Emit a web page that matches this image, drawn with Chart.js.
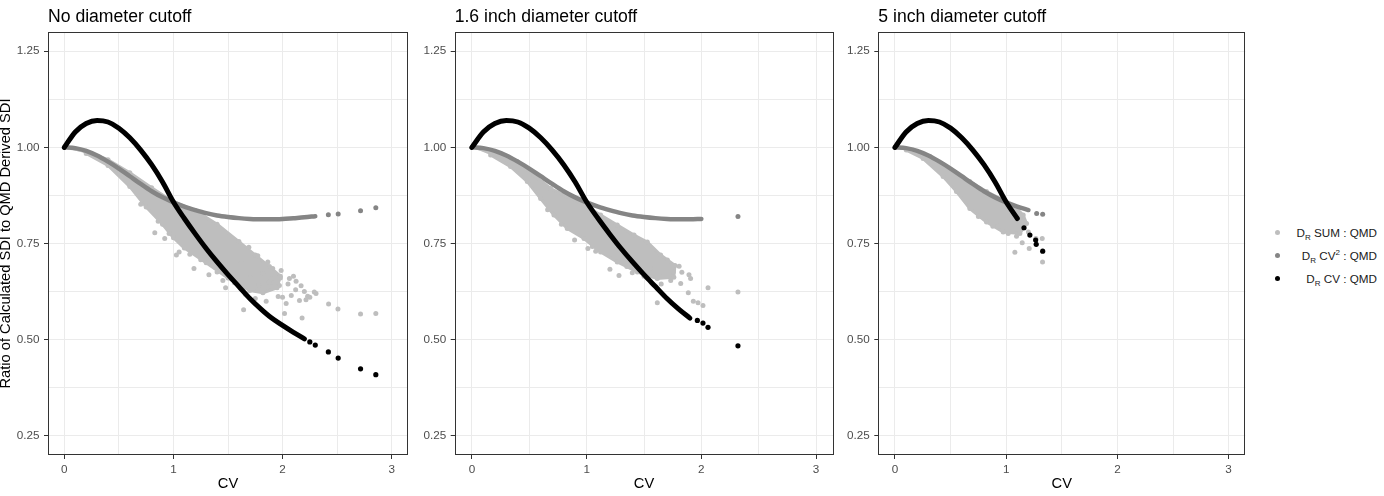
<!DOCTYPE html>
<html>
<head>
<meta charset="utf-8">
<script src="https://cdn.jsdelivr.net/npm/chart.js@4.4.1/dist/chart.umd.min.js"></script>
<style>
  body { margin: 0; background: #fff; width: 1384px; height: 496px; position: relative; overflow: hidden;
         font-family: "Liberation Sans", Arial, sans-serif; }
  canvas { position: absolute; top: 0; }
  #legend { position: absolute; left: 1262px; top: 221px; width: 115px; font-size: 11.7px; color: #1a1a1a; }
  .key { position: relative; height: 23px; line-height: 23px; text-align: right; white-space: nowrap; }
  .key i { position: absolute; left: 13px; top: 9px; width: 5px; height: 5px; border-radius: 50%; }
  .key sub, .key sup { font-size: 8px; line-height: 0; }
</style>
</head>
<body>
<canvas id="p0" width="420" height="496" style="left:0px"></canvas>
<canvas id="p1" width="420" height="496" style="left:420px"></canvas>
<canvas id="p2" width="420" height="496" style="left:840px"></canvas>
<div id="legend"></div>
<script>
// Panels and axes
const panelTitles = ['No diameter cutoff', '1.6 inch diameter cutoff', '5 inch diameter cutoff'];
const xTicks = [0, 0.5, 1, 1.5, 2, 2.5, 3];
const yTicks = [0.25, 0.375, 0.5, 0.625, 0.75, 0.875, 1, 1.125, 1.25];

// Series (legend order)
const seriesLabels = ['D<sub>R</sub> SUM : QMD', 'D<sub>R</sub> CV<sup>2</sup> : QMD', 'D<sub>R</sub> CV : QMD'];
const seriesColors = ['#bebebe', '#858585', '#000000'];

// CV steps at which the two smooth ratio curves were read
const cvSteps = [0, 0.1, 0.2, 0.3, 0.4, 0.5, 0.6, 0.7, 0.8, 0.9, 1.0, 1.1,
                 1.2, 1.3, 1.4, 1.5, 1.6, 1.7, 1.8, 1.9, 2.0, 2.1, 2.2, 2.3];
// D_R CV : QMD
const ratioCV = [1.000, 1.040, 1.062, 1.070, 1.066, 1.050, 1.025, 0.993, 0.955, 0.910, 0.858, 0.815,
                 0.775, 0.737, 0.702, 0.669, 0.638, 0.607, 0.580, 0.556, 0.537, 0.519, 0.502, 0.486];
// D_R CV^2 : QMD
const ratioCV2 = [1.000, 0.998, 0.991, 0.979, 0.963, 0.945, 0.925, 0.905, 0.886, 0.870, 0.857, 0.846,
                  0.837, 0.829, 0.823, 0.819, 0.816, 0.814, 0.813, 0.813, 0.814, 0.816, 0.818, 0.821];
// how many steps each panel covers with a dense run of points
const cvDense = [23, 20, 12];
const cv2Dense = [24, 21, 13];

// sparse points past the dense runs, per panel
const cvTail = [
    [[2.25, 0.494], [2.3, 0.486], [2.42, 0.468], [2.51, 0.452], [2.715, 0.424], [2.855, 0.409]],
    [[1.965, 0.55], [2.014, 0.543], [2.058, 0.532], [2.319, 0.484]],
    [[1.16, 0.791], [1.213, 0.772], [1.265, 0.759], [1.27, 0.748], [1.328, 0.73]]
];
const cv2Tail = [
    [[2.42, 0.825], [2.51, 0.827], [2.715, 0.835], [2.855, 0.843]],
    [[2.319, 0.82]],
    [[1.274, 0.828], [1.328, 0.826]]
];

// D_R SUM : QMD - outline of the dense cloud (upper edge, then lower edge back)
const sumCloud = [
    [[0, 1.0], [0.2, 0.99], [0.4, 0.968], [0.6, 0.934], [0.8, 0.895], [1.0, 0.858], [1.2, 0.836], [1.4, 0.80],
     [1.6, 0.755], [1.75, 0.72], [1.88, 0.69], [1.98, 0.665],
     [1.95, 0.635], [1.82, 0.622], [1.7, 0.628], [1.5, 0.66], [1.3, 0.70], [1.1, 0.738], [1.0, 0.765],
     [0.9, 0.80], [0.75, 0.845], [0.6, 0.898], [0.4, 0.953], [0.2, 0.984]],
    [[0, 1.0], [0.25, 0.984], [0.396, 0.963], [0.541, 0.928], [0.686, 0.893], [0.831, 0.872], [0.977, 0.85],
     [1.122, 0.824], [1.267, 0.798], [1.413, 0.772], [1.529, 0.754], [1.645, 0.72], [1.77, 0.693],
     [1.76, 0.662], [1.616, 0.659], [1.442, 0.676], [1.267, 0.702], [1.122, 0.728], [0.977, 0.763],
     [0.831, 0.789], [0.715, 0.824], [0.599, 0.867], [0.483, 0.911], [0.337, 0.95], [0.163, 0.98]],
    [[0, 1.0], [0.162, 0.993], [0.313, 0.976], [0.493, 0.941], [0.673, 0.911], [0.823, 0.885], [0.973, 0.863],
     [1.093, 0.841], [1.153, 0.824], [1.183, 0.802],
     [1.123, 0.776], [0.973, 0.78], [0.823, 0.806], [0.673, 0.841], [0.553, 0.885], [0.433, 0.924],
     [0.253, 0.971], [0.102, 0.993]]
];
// D_R SUM : QMD - scattered points around the dense cloud
const sumPoints = [
    [[0.829, 0.778], [0.92, 0.763], [1.027, 0.72], [1.052, 0.728], [1.188, 0.685], [1.325, 0.669],
     [1.453, 0.654], [1.478, 0.635], [1.643, 0.578], [1.691, 0.74], [1.773, 0.718], [1.865, 0.702],
     [1.91, 0.685], [1.987, 0.68], [1.91, 0.659], [1.971, 0.641], [2.033, 0.594], [2.018, 0.568],
     [2.063, 0.659], [2.124, 0.652], [2.155, 0.602], [2.179, 0.556], [2.215, 0.604], [2.23, 0.613],
     [2.291, 0.624], [2.307, 0.62], [2.422, 0.593], [2.508, 0.58], [2.715, 0.567], [2.855, 0.568],
     [1.62, 0.70], [1.7, 0.66], [1.78, 0.64], [1.82, 0.672], [1.88, 0.65], [1.93, 0.64], [1.96, 0.612],
     [2.05, 0.645], [2.08, 0.615], [2.12, 0.63], [2.17, 0.64], [2.2, 0.625], [2.1, 0.665], [1.98, 0.66],
     [2.25, 0.61], [0.7, 0.852], [0.86, 0.808], [0.96, 0.776], [1.15, 0.722], [1.25, 0.708], [1.4, 0.676],
     [1.56, 0.648], [1.66, 0.618], [1.75, 0.607], [1.85, 0.6], [2.0, 0.61]],
    [[0.895, 0.759], [1.011, 0.737], [1.079, 0.73], [1.203, 0.683], [1.282, 0.667], [1.398, 0.674],
     [1.704, 0.707], [1.806, 0.691], [1.755, 0.676], [1.892, 0.669], [1.906, 0.659], [1.886, 0.622],
     [1.93, 0.6], [1.971, 0.596], [2.014, 0.589], [2.058, 0.635], [1.616, 0.596], [1.82, 0.646],
     [1.733, 0.654], [2.319, 0.624], [1.558, 0.685], [1.675, 0.669], [0.78, 0.8], [0.66, 0.838],
     [1.05, 0.742], [1.35, 0.69], [1.5, 0.665], [1.65, 0.645], [1.83, 0.675]],
    [[0.928, 0.796], [1.018, 0.776], [1.078, 0.727], [1.144, 0.752], [1.207, 0.737], [1.267, 0.763],
     [1.324, 0.763], [1.327, 0.702], [1.093, 0.769], [0.75, 0.82], [0.88, 0.795], [1.2, 0.78]]
];

// Layout of the three panels inside their canvases
const panelLayout = [
    { axisWidth: 48, padRight: 12, yTitle: true },
    { axisWidth: 34.7, padRight: 6.7, yTitle: false },
    { axisWidth: 38.3, padRight: 14.7, yTitle: false }
];

Chart.defaults.font.family = '"Liberation Sans", Arial, sans-serif';

const toXY = pairs => pairs.map(([x, y]) => ({ x, y }));
const isMajorX = v => Math.abs(v - Math.round(v)) < 1e-9;
const isMajorY = v => Math.abs(v * 4 - Math.round(v * 4)) < 1e-9;

// cadre du panneau (theme_bw)
const panelBorder = {
    id: 'panelBorder',
    afterDraw(chart) {
        const { ctx, chartArea: a } = chart;
        ctx.save();
        ctx.strokeStyle = '#333333';
        ctx.lineWidth = 1;
        ctx.strokeRect(Math.round(a.left) + 0.5, Math.round(a.top) + 0.5,
            Math.round(a.right - a.left) - 1, Math.round(a.bottom - a.top) - 1);
        ctx.restore();
    }
};

function makePanel(i) {
    const lay = panelLayout[i];
    const curve = (vals, n) => cvSteps.slice(0, n).map((x, k) => ({ x, y: vals[k] }));
    const scatter = (data, color, r) => ({
        data, showLine: false, pointRadius: r, pointBorderWidth: 0,
        pointBackgroundColor: color, backgroundColor: color, borderColor: color
    });
    const line = (data, color, w) => ({
        data, showLine: true, borderColor: color, borderWidth: w, pointRadius: 0,
        cubicInterpolationMode: 'monotone', borderCapStyle: 'round', fill: false
    });

    // first dataset is drawn on top
    const datasets = [
        scatter(toXY(cvTail[i]), seriesColors[2], 2.6),
        line(curve(ratioCV, cvDense[i]), seriesColors[2], 5),
        scatter(toXY(cv2Tail[i]), seriesColors[1], 2.5),
        line(curve(ratioCV2, cv2Dense[i]), seriesColors[1], 4.5),
        scatter(toXY(sumPoints[i]), seriesColors[0], 2.5),
        {
            data: toXY(sumCloud[i]), showLine: true, fill: 'shape', tension: 0,
            borderColor: seriesColors[0], backgroundColor: seriesColors[0],
            borderWidth: 3, borderJoinStyle: 'round',
            pointRadius: 2.5, pointBorderWidth: 0, pointBackgroundColor: seriesColors[0]
        }
    ];

    return new Chart(document.getElementById('p' + i), {
        type: 'line',
        data: { datasets },
        plugins: [panelBorder],
        options: {
            responsive: false,
            animation: false,
            events: [],
            layout: { autoPadding: false, padding: { left: 0, right: lay.padRight, top: 0, bottom: 0 } },
            plugins: {
                legend: { display: false },
                tooltip: { enabled: false },
                title: {
                    display: true,
                    text: panelTitles[i],
                    align: 'start',
                    fullSize: false,
                    color: '#000000',
                    font: { size: 17.6, weight: 'normal' },
                    padding: { top: 6.5, bottom: 4.4 }
                }
            },
            scales: {
                x: {
                    type: 'linear',
                    min: -0.15, max: 3.15,
                    afterBuildTicks: s => { s.ticks = xTicks.map(value => ({ value })); },
                    afterFit: s => { s.height = 41; },
                    ticks: {
                        autoSkip: false, maxRotation: 0, padding: 4,
                        color: '#4d4d4d', font: { size: 11.7 },
                        callback: v => isMajorX(v) ? String(v) : ''
                    },
                    grid: {
                        color: '#ebebeb', lineWidth: 1, tickLength: 4, tickWidth: 1,
                        tickColor: c => (c.tick && isMajorX(c.tick.value)) ? '#333333' : 'rgba(0,0,0,0)'
                    },
                    border: { display: false },
                    title: {
                        display: true, text: 'CV', color: '#000000',
                        font: { size: 14.67 }, padding: { top: 0, bottom: 3.2 }
                    }
                },
                y: {
                    type: 'linear',
                    min: 0.2, max: 1.3,
                    afterBuildTicks: s => { s.ticks = yTicks.map(value => ({ value })); },
                    afterFit: s => { s.width = lay.axisWidth; },
                    ticks: {
                        autoSkip: false, padding: 4.5,
                        color: '#4d4d4d', font: { size: 11.7 },
                        callback: v => isMajorY(v) ? v.toFixed(2) : ''
                    },
                    grid: {
                        color: '#ebebeb', lineWidth: 1, tickLength: 4, tickWidth: 1,
                        tickColor: c => (c.tick && isMajorY(c.tick.value)) ? '#333333' : 'rgba(0,0,0,0)'
                    },
                    border: { display: false },
                    title: {
                        display: lay.yTitle, text: 'Ratio of Calculated SDI to QMD Derived SDI',
                        color: '#000000', font: { size: 14.67, lineHeight: 0.8 }, padding: { top: 0, bottom: 0 }
                    }
                }
            }
        }
    });
}

panelTitles.forEach((t, i) => makePanel(i));

// légende (avec indices / exposants)
document.getElementById('legend').innerHTML = seriesLabels.map((lab, k) =>
    `<div class="key"><i style="background:${seriesColors[k]}"></i>${lab}</div>`).join('');
</script>
</body>
</html>
